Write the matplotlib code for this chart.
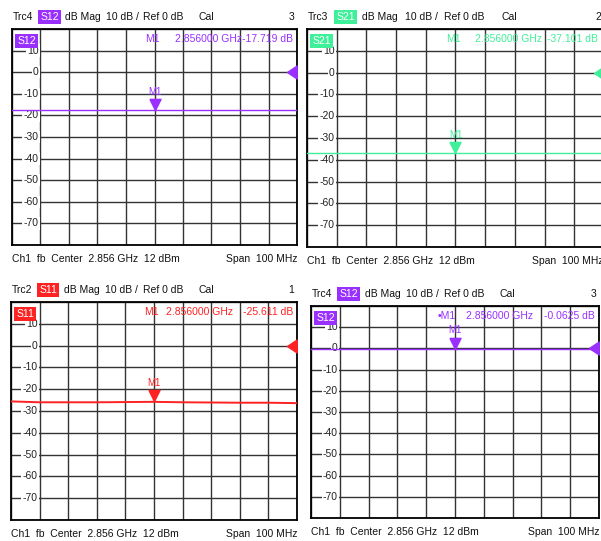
import matplotlib
matplotlib.use("Agg")
import matplotlib.pyplot as plt
import matplotlib.transforms as mtransforms
from matplotlib.path import Path
import numpy as np

plt.rcParams['font.family'] = ['Liberation Sans', 'DejaVu Sans']

# sweep settings (GHz)
center_ghz = 2.856
span_ghz = 0.100
freqs = [2.806, 2.816, 2.826, 2.836, 2.846, 2.856, 2.866, 2.876, 2.886, 2.896, 2.906]

# traces (dB)
s12_top = [-17.72, -17.72, -17.72, -17.72, -17.72, -17.72, -17.72, -17.72, -17.72, -17.72, -17.72]
s21_top = [-37.10, -37.10, -37.10, -37.10, -37.10, -37.10, -37.10, -37.10, -37.10, -37.10, -37.10]
s11_bot = [-25.6, -26.0, -26.0, -26.0, -25.9, -25.8, -26.0, -26.1, -26.2, -26.2, -26.4]
s12_bot = [-0.06, -0.06, -0.06, -0.06, -0.06, -0.06, -0.06, -0.06, -0.06, -0.06, -0.06]

marker_vals = [-17.719, -37.101, -25.611, -0.0625]
marker_txt = ["-17.719 dB", "-37.101 dB", "-25.611 dB", "-0.0625 dB"]
y_ticks = [10, 0, -10, -20, -30, -40, -50, -60, -70]

W, H = 601, 541
fig = plt.figure(figsize=(W / 100, H / 100), dpi=100)
fig.patch.set_facecolor('white')

purple = '#9a30ff'
green = '#3ff09a'
red = '#ff2222'

# box in pixels: x0, y0, x1, y1 ; readout x fractions
panels = [
    dict(box=(12, 29, 297, 245), trc="Trc4", sp="S12", col=purple, vals=s12_top, ch="3",
         m=0, mx=(0.467, 0.572, 0.986), m1="M1"),
    dict(box=(307, 29, 604, 247), trc="Trc3", sp="S21", col=green, vals=s21_top, ch="2",
         m=1, mx=(0.468, 0.566, 0.980), m1="M1"),
    dict(box=(11, 302, 297, 520), trc="Trc2", sp="S11", col=red, vals=s11_bot, ch="1",
         m=2, mx=(0.465, 0.542, 0.986), m1="M1"),
    dict(box=(311, 306, 599, 518), trc="Trc4", sp="S12", col=purple, vals=s12_bot, ch="3",
         m=3, mx=(0.440, 0.538, 0.986), m1="\u2022M1"),
]

tri_down = Path([(-0.5, 1.0), (0.5, 1.0), (0.0, 0.0), (-0.5, 1.0)])
tri_left = Path([(0.0, 0.0), (0.75, 0.5), (0.75, -0.5), (0.0, 0.0)])

fs = 7.5
for p in panels:
    x0, y0, x1, y1 = p['box']
    ax = fig.add_axes([x0 / W, 1 - y1 / H, (x1 - x0) / W, (y1 - y0) / H])
    ax.set_xlim(center_ghz - span_ghz / 2, center_ghz + span_ghz / 2)
    ax.set_ylim(-80, 20)
    ax.set_xticks(np.linspace(center_ghz - span_ghz / 2, center_ghz + span_ghz / 2, 11))
    ax.set_yticks(range(-80, 21, 10))
    ax.grid(True, color='#333333', lw=1.0)
    ax.tick_params(length=0, labelbottom=False, labelleft=False)
    for s in ax.spines.values():
        s.set_color('black')
        s.set_linewidth(1.3)
    ax.set_axisbelow(True)

    bt = mtransforms.blended_transform_factory(ax.transAxes, ax.transData)
    for v in y_ticks:
        ax.text(0.093, v, str(v), transform=bt, ha='right', va='center',
                fontsize=fs, color='#222222', zorder=3,
                bbox=dict(facecolor='white', edgecolor='none', pad=0.8))

    col = p['col']
    ax.plot(freqs, p['vals'], color=col, lw=1.0 if col != red else 1.4, zorder=4)

    mv = marker_vals[p['m']]
    ax.plot([center_ghz], [mv], marker=tri_down, ms=16, color=col, ls='none', zorder=5)
    ax.annotate("M1", (center_ghz, mv), xytext=(0, 10), textcoords='offset points',
                ha='center', va='bottom', fontsize=7, color=col, zorder=5)
    ax.plot([0.966], [0], marker=tri_left, ms=14, color=col, ls='none',
            transform=bt, clip_on=False, zorder=6)

    # label in the plot corner
    ax.text(0.018, 0.945, p['sp'], transform=ax.transAxes, ha='left', va='center',
            fontsize=fs, color='white', zorder=7,
            bbox=dict(facecolor=col, edgecolor='none', pad=1.5))

    # marker readout
    ry = 0.954
    ax.text(p['mx'][0], ry, p['m1'], transform=ax.transAxes, ha='left', va='center',
            fontsize=fs, color=col, zorder=6)
    ax.text(p['mx'][1], ry, "2.856000 GHz", transform=ax.transAxes, ha='left', va='center',
            fontsize=fs, color=col, zorder=6)
    ax.text(p['mx'][2], ry, marker_txt[p['m']], transform=ax.transAxes, ha='right', va='center',
            fontsize=fs, color=col, zorder=6)

    # header line
    hh = y1 - y0
    hy = 1 + 12 / hh
    ax.text(0.003, hy, p['trc'], transform=ax.transAxes, ha='left', va='center', fontsize=fs, color='#111111')
    ax.text(0.099, hy, p['sp'], transform=ax.transAxes, ha='left', va='center', fontsize=fs, color='white',
            bbox=dict(facecolor=col, edgecolor='none', pad=1.6))
    ax.text(0.186, hy, "dB Mag", transform=ax.transAxes, ha='left', va='center', fontsize=fs, color='#111111')
    ax.text(0.329, hy, "10 dB /", transform=ax.transAxes, ha='left', va='center', fontsize=fs, color='#111111')
    ax.text(0.461, hy, "Ref 0 dB", transform=ax.transAxes, ha='left', va='center', fontsize=fs, color='#111111')
    ax.text(0.656, hy, "Cal", transform=ax.transAxes, ha='left', va='center', fontsize=fs, color='#111111')
    ax.text(0.99, hy, p['ch'], transform=ax.transAxes, ha='right', va='center', fontsize=fs, color='#111111')

    # footer line
    fy = -14 / hh
    ax.text(0.0, fy, "Ch1  fb  Center  2.856 GHz  12 dBm", transform=ax.transAxes, ha='left', va='center',
            fontsize=fs, color='#111111')
    ax.text(1.0, fy, "Span  100 MHz", transform=ax.transAxes, ha='right', va='center',
            fontsize=fs, color='#111111')

fig.savefig("out.png", dpi=100, facecolor='white')
